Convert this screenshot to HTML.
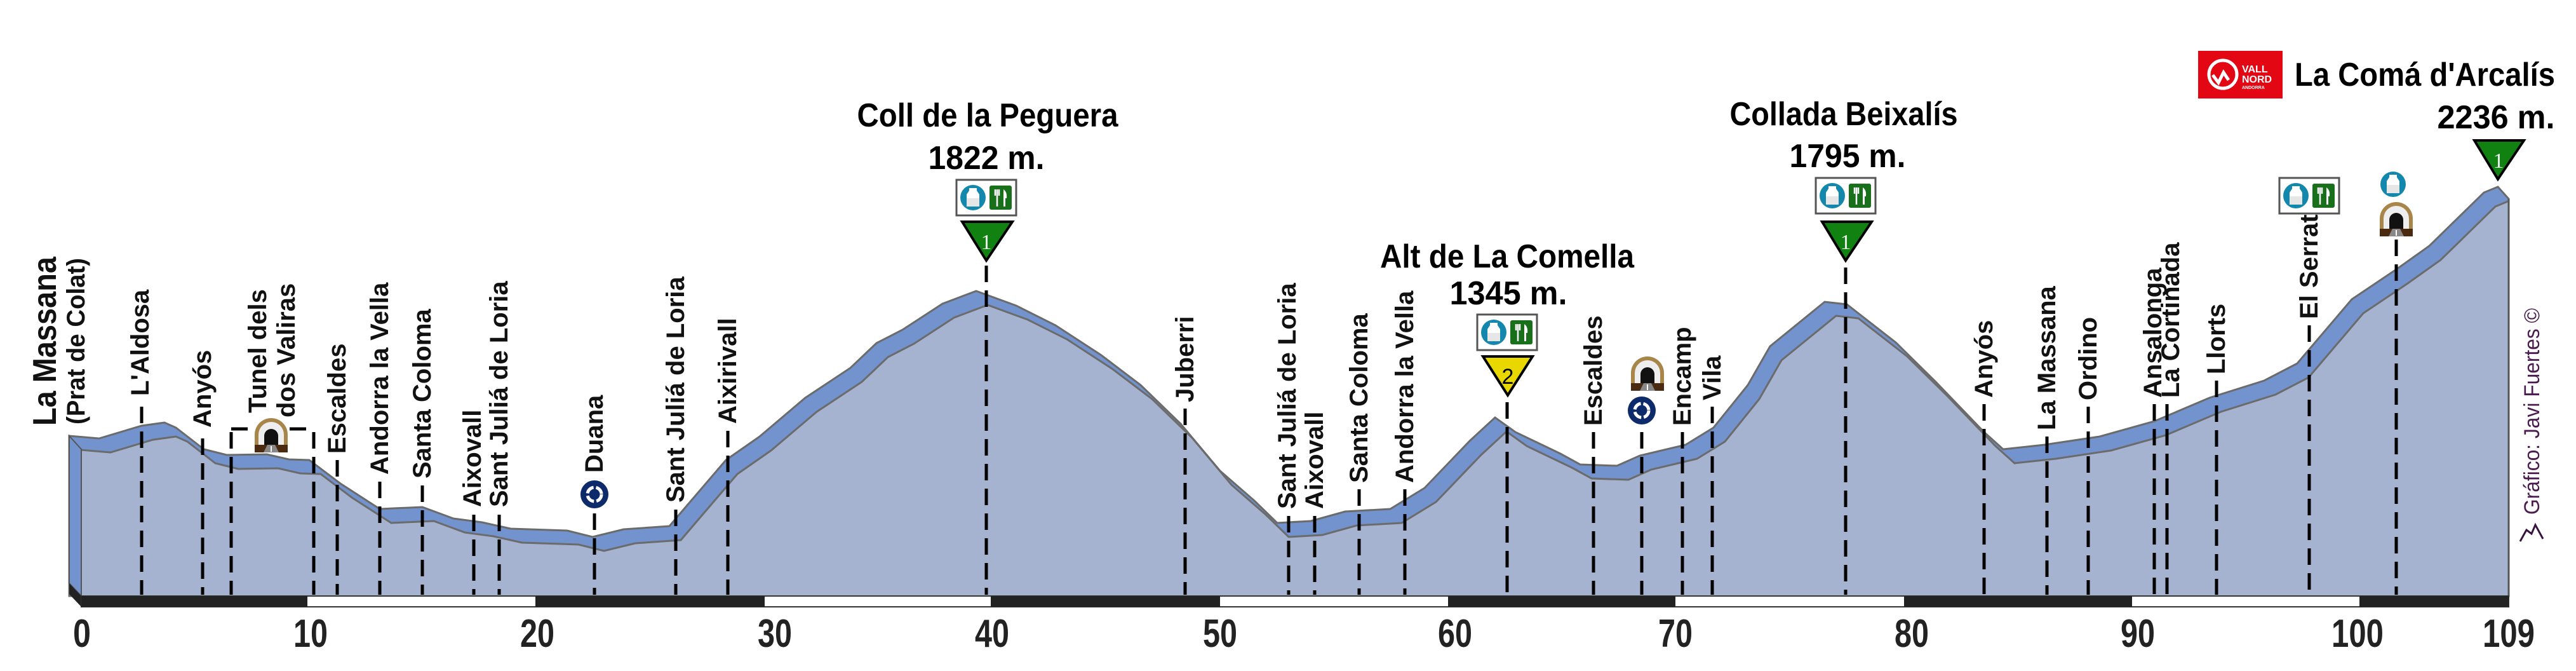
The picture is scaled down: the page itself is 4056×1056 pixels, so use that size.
<!DOCTYPE html>
<html><head><meta charset="utf-8"><style>
html,body{margin:0;padding:0;background:#fff;}
svg{display:block;}
.lbl{font-family:"Liberation Sans",sans-serif;font-size:40px;font-weight:bold;fill:#111;}
.ttl{font-family:"Liberation Sans Narrow","Liberation Sans",sans-serif;font-weight:bold;font-size:52px;fill:#000;}
.ax{font-family:"Liberation Sans Narrow","Liberation Sans",sans-serif;font-weight:bold;font-size:62px;fill:#222;}
.dash{stroke:#000;stroke-width:5;stroke-dasharray:26 13;}
</style></head><body>
<svg width="4056" height="1056" viewBox="0 0 4056 1056" xmlns="http://www.w3.org/2000/svg">
<defs>
<clipPath id="fc"><rect x="128" y="0" width="3822" height="938"/></clipPath>
<g id="water"><circle cx="0" cy="0" r="20" fill="#1487ad"/><path d="M-6,-15 h12 v4 l4,6 v19 h-20 v-19 l4,-6z" fill="#fff"/><rect x="-10" y="1" width="20" height="13" fill="#e6e6e6"/></g>
<g id="food"><rect x="-17" y="-19" width="35" height="38" rx="3" fill="#19701a"/><path d="M-8,-13 v10 M-5,-13 v10 M-2,-13 v10 M-5,-3 v17" stroke="#fff" stroke-width="2.5" fill="none"/><path d="M5,-13 q6,4 5,14 h-2 v13 h-3z" fill="#fff"/></g>
<g id="tunnel"><path d="M-26,26 v-26 a26,26 0 0 1 52,0 v26z" fill="#a8864a"/><path d="M-20,16 v-16 a20,20 0 0 1 40,0 v16z" fill="#eee"/><path d="M-11,16 v-14 a11,11 0 0 1 22,0 v14z" fill="#111"/><rect x="-26" y="16" width="52" height="12" fill="#4a2a10"/><path d="M-12,28 l6,-12 h12 l6,12z" fill="#888"/><path d="M0,18 v9" stroke="#fff" stroke-width="2"/></g>
<g id="round"><circle r="22" fill="#0d2a6b"/><circle r="11" fill="none" stroke="#fff" stroke-width="5" stroke-dasharray="14 4"/><circle r="5" fill="#0d2a6b"/></g>
<g id="box"><rect x="-47" y="-27" width="94" height="56" fill="#fff" stroke="#555" stroke-width="3"/><use href="#water" x="-21" y="1"/><use href="#food" x="22" y="1"/></g>
</defs>

<polygon fill="#7393cf" stroke="#6b6b6b" stroke-width="3" points="109,686 156,690 223,670 259,665 277,673 321,707 357,716 420,715 455,723 487,724 536,761 598,801 665,798 714,816 759,822 804,832 893,835 933,845 982,833 1054,828 1071,808 1143,724 1196,687 1268,626 1339,579 1380,540 1421,519 1484,478 1537,458 1600,481 1662,512 1734,559 1796,606 1859,667 1921,741 1975,788 2011,823 2064,820 2118,805 2189,801 2243,768 2314,694 2354,657 2386,680 2457,714 2488,731 2546,733 2582,717 2654,700 2698,673 2752,606 2787,545 2873,475 2908,479 2985,539 3046,599 3124,680 3154,707 3219,700 3306,687 3392,663 3479,626 3565,599 3617,572 3703,471 3773,424 3825,387 3911,303 3933,294 3950,313 3950,938 109,938"/>
<g clip-path="url(#fc)">
<polygon fill="#a5b3d1" stroke="#6b6b6b" stroke-width="3" transform="translate(18,22)" points="109,686 156,690 223,670 259,665 277,673 321,707 357,716 420,715 455,723 487,724 536,761 598,801 665,798 714,816 759,822 804,832 893,835 933,845 982,833 1054,828 1071,808 1143,724 1196,687 1268,626 1339,579 1380,540 1421,519 1484,478 1537,458 1600,481 1662,512 1734,559 1796,606 1859,667 1921,741 1975,788 2011,823 2064,820 2118,805 2189,801 2243,768 2314,694 2354,657 2386,680 2457,714 2488,731 2546,733 2582,717 2654,700 2698,673 2752,606 2787,545 2873,475 2908,479 2985,539 3046,599 3124,680 3154,707 3219,700 3306,687 3392,663 3479,626 3565,599 3617,572 3703,471 3773,424 3825,387 3911,303 3933,294 3950,291 3950,1000 109,1000"/>
</g>
<polygon points="109,686 128,707 128,938 109,918" fill="#7393cf" stroke="#555" stroke-width="2"/>
<line x1="3950" y1="313" x2="3950" y2="938" stroke="#555" stroke-width="3"/>

<polygon points="109,918 128,938 128,955 109,935" fill="#222"/>
<rect x="128" y="938" width="3822" height="17" fill="#fff" stroke="#333" stroke-width="2"/>
<rect x="128" y="938" width="356" height="17" fill="#222"/>
<rect x="843" y="938" width="361" height="17" fill="#222"/>
<rect x="1560" y="938" width="361" height="17" fill="#222"/>
<rect x="2280" y="938" width="358" height="17" fill="#222"/>
<rect x="2998" y="938" width="359" height="17" fill="#222"/>
<rect x="3715" y="938" width="235" height="17" fill="#222"/>
<g class="ax" text-anchor="middle">
<text x="129" y="1018" textLength="28" lengthAdjust="spacingAndGlyphs">0</text>
<text x="489" y="1018" textLength="54" lengthAdjust="spacingAndGlyphs">10</text>
<text x="846" y="1018" textLength="54" lengthAdjust="spacingAndGlyphs">20</text>
<text x="1220" y="1018" textLength="54" lengthAdjust="spacingAndGlyphs">30</text>
<text x="1562" y="1018" textLength="54" lengthAdjust="spacingAndGlyphs">40</text>
<text x="1921" y="1018" textLength="54" lengthAdjust="spacingAndGlyphs">50</text>
<text x="2291" y="1018" textLength="54" lengthAdjust="spacingAndGlyphs">60</text>
<text x="2638" y="1018" textLength="54" lengthAdjust="spacingAndGlyphs">70</text>
<text x="3010" y="1018" textLength="54" lengthAdjust="spacingAndGlyphs">80</text>
<text x="3366" y="1018" textLength="54" lengthAdjust="spacingAndGlyphs">90</text>
<text x="3712" y="1018" textLength="82" lengthAdjust="spacingAndGlyphs">100</text>
<text x="3950" y="1018" textLength="82" lengthAdjust="spacingAndGlyphs">109</text>
</g>

<g class="dash">
<line x1="223" y1="640" x2="223" y2="936"/>
<line x1="319" y1="690" x2="319" y2="936"/>
<line x1="364" y1="680" x2="364" y2="936"/>
<line x1="494" y1="680" x2="494" y2="936"/>
<line x1="364" y1="675" x2="400" y2="675"/>
<line x1="456" y1="675" x2="494" y2="675"/>
<line x1="531" y1="724" x2="531" y2="936"/>
<line x1="598" y1="758" x2="598" y2="936"/>
<line x1="665" y1="764" x2="665" y2="936"/>
<line x1="746" y1="810" x2="746" y2="936"/>
<line x1="786" y1="810" x2="786" y2="936"/>
<line x1="936" y1="808" x2="936" y2="936"/>
<line x1="1064" y1="802" x2="1064" y2="936"/>
<line x1="1146" y1="678" x2="1146" y2="936"/>
<line x1="1553" y1="418" x2="1553" y2="936"/>
<line x1="1866" y1="643" x2="1866" y2="936"/>
<line x1="2029" y1="812" x2="2029" y2="936"/>
<line x1="2070" y1="812" x2="2070" y2="936"/>
<line x1="2140" y1="770" x2="2140" y2="936"/>
<line x1="2212" y1="770" x2="2212" y2="936"/>
<line x1="2373" y1="633" x2="2373" y2="936"/>
<line x1="2509" y1="680" x2="2509" y2="936"/>
<line x1="2585" y1="680" x2="2585" y2="936"/>
<line x1="2649" y1="680" x2="2649" y2="936"/>
<line x1="2696" y1="640" x2="2696" y2="936"/>
<line x1="2906" y1="421" x2="2906" y2="936"/>
<line x1="3124" y1="636" x2="3124" y2="936"/>
<line x1="3223" y1="687" x2="3223" y2="936"/>
<line x1="3288" y1="640" x2="3288" y2="936"/>
<line x1="3392" y1="636" x2="3392" y2="936"/>
<line x1="3412" y1="636" x2="3412" y2="936"/>
<line x1="3490" y1="599" x2="3490" y2="936"/>
<line x1="3636" y1="512" x2="3636" y2="936"/>
<line x1="3773" y1="377" x2="3773" y2="936"/>
</g>

<g class="lbl" dominant-baseline="central">
<text transform="translate(71,670) rotate(-90)" style="font-size:52px" textLength="266" lengthAdjust="spacingAndGlyphs">La Massana</text>
<text transform="translate(120,668) rotate(-90)" style="font-size:40px" textLength="262" lengthAdjust="spacingAndGlyphs">(Prat de Colat)</text>
<text transform="translate(221,623) rotate(-90)">L'Aldosa</text>
<text transform="translate(319,673) rotate(-90)">Anyós</text>
<text transform="translate(406,650) rotate(-90)">Tunel dels</text>
<text transform="translate(451,657) rotate(-90)">dos Valiras</text>
<text transform="translate(531,714) rotate(-90)">Escaldes</text>
<text transform="translate(598,747) rotate(-90)">Andorra la Vella</text>
<text transform="translate(665,753) rotate(-90)">Santa Coloma</text>
<text transform="translate(744,798) rotate(-90)">Aixovall</text>
<text transform="translate(786,798) rotate(-90)">Sant Juliá de Loria</text>
<text transform="translate(936,744) rotate(-90)">Duana</text>
<text transform="translate(1064,791) rotate(-90)">Sant Juliá de Loria</text>
<text transform="translate(1146,667) rotate(-90)">Aixirivall</text>
<text transform="translate(1866,633) rotate(-90)">Juberri</text>
<text transform="translate(2027,801) rotate(-90)">Sant Juliá de Loria</text>
<text transform="translate(2070,801) rotate(-90)">Aixovall</text>
<text transform="translate(2140,760) rotate(-90)">Santa Coloma</text>
<text transform="translate(2212,760) rotate(-90)">Andorra la Vella</text>
<text transform="translate(2509,670) rotate(-90)">Escaldes</text>
<text transform="translate(2649,670) rotate(-90)">Encamp</text>
<text transform="translate(2696,630) rotate(-90)">Vila</text>
<text transform="translate(3124,626) rotate(-90)">Anyós</text>
<text transform="translate(3223,677) rotate(-90)">La Massana</text>
<text transform="translate(3288,630) rotate(-90)">Ordino</text>
<text transform="translate(3390,626) rotate(-90)">Ansalonga</text>
<text transform="translate(3418,626) rotate(-90)">La Cortinada</text>
<text transform="translate(3490,589) rotate(-90)">Llorts</text>
<text transform="translate(3636,502) rotate(-90)">El Serrat</text>
<text transform="translate(3987,810) rotate(-90)" style="font-size:34px;font-weight:normal;fill:#4b1b4f" textLength="325" lengthAdjust="spacingAndGlyphs">Gráfico: Javi Fuertes ©</text>
</g>
<path d="M3968,852 l10,-18 l8,6 l6,-14 l12,22" fill="none" stroke="#3a1240" stroke-width="3"/>

<use href="#tunnel" x="427" y="684"/>
<use href="#round" x="936" y="778"/>
<use href="#tunnel" x="2594" y="587"/>
<use href="#round" x="2585" y="646"/>
<use href="#box" x="1553" y="310"/>
<use href="#box" x="2373" y="522"/>
<use href="#box" x="2906" y="307"/>
<use href="#box" x="3636" y="307"/>
<use href="#water" x="3768" y="290"/>
<use href="#tunnel" x="3773" y="344"/>

<polygon points="1515,349 1594,349 1553,410" fill="#118211" stroke="#000" stroke-width="4"/>
<text x="1553" y="392" text-anchor="middle" font-family="Liberation Serif,serif" font-size="34" fill="#eee">1</text>
<polygon points="2335,561 2413,561 2374,622" fill="#e8d800" stroke="#000" stroke-width="4"/>
<text x="2374" y="604" text-anchor="middle" font-family="Liberation Sans,sans-serif" font-size="34" fill="#000">2</text>
<polygon points="2869,349 2947,349 2906,410" fill="#118211" stroke="#000" stroke-width="4"/>
<text x="2906" y="392" text-anchor="middle" font-family="Liberation Serif,serif" font-size="34" fill="#eee">1</text>
<polygon points="3896,221 3974,221 3933,282" fill="#118211" stroke="#000" stroke-width="4"/>
<text x="3934" y="264" text-anchor="middle" font-family="Liberation Serif,serif" font-size="34" fill="#eee">1</text>

<g class="ttl" text-anchor="middle">
<text x="1555" y="199" textLength="411" lengthAdjust="spacingAndGlyphs">Coll de la Peguera</text>
<text x="1553" y="266" textLength="183" lengthAdjust="spacingAndGlyphs">1822 m.</text>
<text x="2373" y="421" textLength="400" lengthAdjust="spacingAndGlyphs">Alt de La Comella</text>
<text x="2375" y="479" textLength="185" lengthAdjust="spacingAndGlyphs">1345 m.</text>
<text x="2903" y="197" textLength="359" lengthAdjust="spacingAndGlyphs">Collada Beixalís</text>
<text x="2909" y="263" textLength="183" lengthAdjust="spacingAndGlyphs">1795 m.</text>
<text x="3818" y="135" textLength="410" lengthAdjust="spacingAndGlyphs">La Comá d'Arcalís</text>
<text x="3930" y="202" textLength="185" lengthAdjust="spacingAndGlyphs">2236 m.</text>
</g>

<rect x="3461" y="80" width="133" height="75" fill="#e30613"/>
<circle cx="3500" cy="117" r="22" fill="none" stroke="#fff" stroke-width="5"/>
<path d="M3484,118 l9,12 l8,-16 l8,12" fill="none" stroke="#fff" stroke-width="5"/>
<text x="3530" y="114" font-family="Liberation Sans,sans-serif" font-weight="bold" font-size="16" fill="#fff">VALL</text>
<text x="3530" y="130" font-family="Liberation Sans,sans-serif" font-weight="bold" font-size="16" fill="#fff">NORD</text>
<text x="3530" y="140" font-family="Liberation Sans,sans-serif" font-weight="bold" font-size="7" fill="#fff">ANDORRA</text>
</svg>
</body></html>
